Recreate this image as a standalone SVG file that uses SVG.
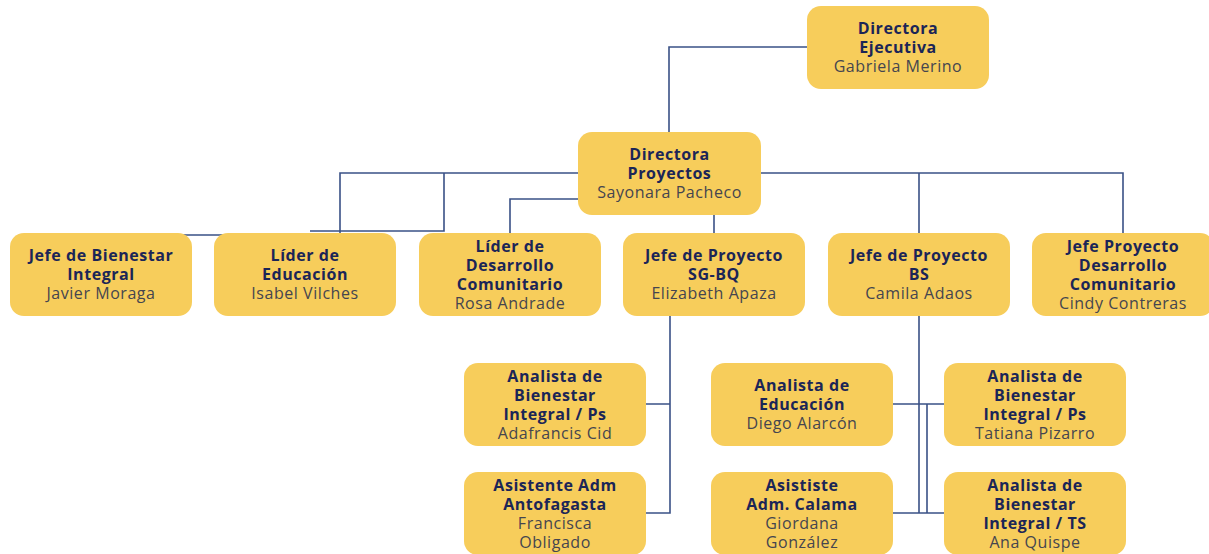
<svg xmlns="http://www.w3.org/2000/svg" width="1209" height="554" viewBox="0 0 1209 554">
<style>
.box{fill:#F7CD5B}
.t{font-family:"Open Sans","Liberation Sans",sans-serif;font-size:16px;text-anchor:middle;letter-spacing:0.55px}
.b{font-weight:700;fill:#1B2557}
.n{font-weight:400;fill:#45454F}
.c{fill:none;stroke:#3A5186;stroke-width:1.6}
</style>
<rect width="1209" height="554" fill="#fff"/>
<g id="connectors">
<path class="c" d="M807 47H669V132"/>
<path class="c" d="M761 173H1123V233M919 173V233"/>
<path class="c" d="M578 173H340V235H103"/>
<path class="c" d="M444 173V231H310"/>
<path class="c" d="M578 199H510V233"/>
<path class="c" d="M714 215V233"/>
<path class="c" d="M670 316V513H646M646 404H670"/>
<path class="c" d="M919 316V513M893 404H944M893 513H944M927 404V513"/>
</g>
<g id="directora-ejecutiva"><rect class="box" x="807" y="6" width="182" height="83" rx="14"/>
<text class="t"><tspan class="b" x="898" y="34">Directora</tspan><tspan class="b" x="898" y="53">Ejecutiva</tspan><tspan class="n" x="898" y="72">Gabriela Merino</tspan></text></g>
<g id="directora-proyectos"><rect class="box" x="578" y="132" width="183" height="83" rx="14"/>
<text class="t"><tspan class="b" x="669.5" y="160">Directora</tspan><tspan class="b" x="669.5" y="179">Proyectos</tspan><tspan class="n" x="669.5" y="198">Sayonara Pacheco</tspan></text></g>
<g id="jefe-bienestar"><rect class="box" x="10" y="233" width="182" height="83" rx="14"/>
<text class="t"><tspan class="b" x="101" y="261">Jefe de Bienestar</tspan><tspan class="b" x="101" y="280">Integral</tspan><tspan class="n" x="101" y="299">Javier Moraga</tspan></text></g>
<g id="lider-educacion"><rect class="box" x="214" y="233" width="182" height="83" rx="14"/>
<text class="t"><tspan class="b" x="305" y="261">Líder de</tspan><tspan class="b" x="305" y="280">Educación</tspan><tspan class="n" x="305" y="299">Isabel Vilches</tspan></text></g>
<g id="lider-desarrollo"><rect class="box" x="419" y="233" width="182" height="83" rx="14"/>
<text class="t"><tspan class="b" x="510" y="252">Líder de</tspan><tspan class="b" x="510" y="271">Desarrollo</tspan><tspan class="b" x="510" y="290">Comunitario</tspan><tspan class="n" x="510" y="309">Rosa Andrade</tspan></text></g>
<g id="jefe-sgbq"><rect class="box" x="623" y="233" width="182" height="83" rx="14"/>
<text class="t"><tspan class="b" x="714" y="261">Jefe de Proyecto</tspan><tspan class="b" x="714" y="280">SG-BQ</tspan><tspan class="n" x="714" y="299">Elizabeth Apaza</tspan></text></g>
<g id="jefe-bs"><rect class="box" x="828" y="233" width="182" height="83" rx="14"/>
<text class="t"><tspan class="b" x="919" y="261">Jefe de Proyecto</tspan><tspan class="b" x="919" y="280">BS</tspan><tspan class="n" x="919" y="299">Camila Adaos</tspan></text></g>
<g id="jefe-desarrollo"><rect class="box" x="1032" y="233" width="182" height="83" rx="14"/>
<text class="t"><tspan class="b" x="1123" y="252">Jefe Proyecto</tspan><tspan class="b" x="1123" y="271">Desarrollo</tspan><tspan class="b" x="1123" y="290">Comunitario</tspan><tspan class="n" x="1123" y="309">Cindy Contreras</tspan></text></g>
<g id="analista-ps-cid"><rect class="box" x="464" y="363" width="182" height="83" rx="14"/>
<text class="t"><tspan class="b" x="555" y="382">Analista de</tspan><tspan class="b" x="555" y="401">Bienestar</tspan><tspan class="b" x="555" y="420">Integral / Ps</tspan><tspan class="n" x="555" y="439">Adafrancis Cid</tspan></text></g>
<g id="asistente-antofagasta"><rect class="box" x="464" y="472" width="182" height="83" rx="14"/>
<text class="t"><tspan class="b" x="555" y="491">Asistente Adm</tspan><tspan class="b" x="555" y="510">Antofagasta</tspan><tspan class="n" x="555" y="529">Francisca</tspan><tspan class="n" x="555" y="548">Obligado</tspan></text></g>
<g id="analista-educacion"><rect class="box" x="711" y="363" width="182" height="83" rx="14"/>
<text class="t"><tspan class="b" x="802" y="391">Analista de</tspan><tspan class="b" x="802" y="410">Educación</tspan><tspan class="n" x="802" y="429">Diego Alarcón</tspan></text></g>
<g id="asistente-calama"><rect class="box" x="711" y="472" width="182" height="83" rx="14"/>
<text class="t"><tspan class="b" x="802" y="491">Asististe</tspan><tspan class="b" x="802" y="510">Adm. Calama</tspan><tspan class="n" x="802" y="529">Giordana</tspan><tspan class="n" x="802" y="548">González</tspan></text></g>
<g id="analista-ps-pizarro"><rect class="box" x="944" y="363" width="182" height="83" rx="14"/>
<text class="t"><tspan class="b" x="1035" y="382">Analista de</tspan><tspan class="b" x="1035" y="401">Bienestar</tspan><tspan class="b" x="1035" y="420">Integral / Ps</tspan><tspan class="n" x="1035" y="439">Tatiana Pizarro</tspan></text></g>
<g id="analista-ts"><rect class="box" x="944" y="472" width="182" height="83" rx="14"/>
<text class="t"><tspan class="b" x="1035" y="491">Analista de</tspan><tspan class="b" x="1035" y="510">Bienestar</tspan><tspan class="b" x="1035" y="529">Integral / TS</tspan><tspan class="n" x="1035" y="548">Ana Quispe</tspan></text></g>
</svg>
